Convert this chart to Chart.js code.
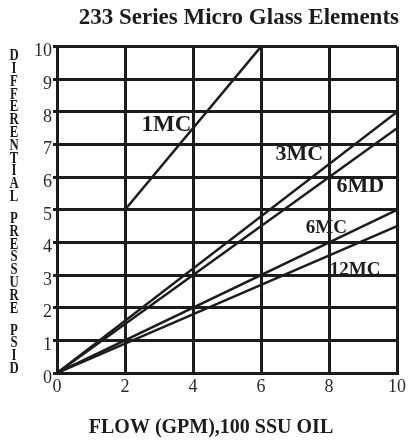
<!DOCTYPE html>
<html>
<head>
<meta charset="utf-8">
<script src="https://cdn.jsdelivr.net/npm/chart.js@4"></script>
<style>
    html, body { margin: 0; padding: 0; background: #fff; }
    canvas { display: block; }
</style>
</head>
<body>
<canvas id="myChart" width="409" height="441"></canvas>
<script>
// DATA
const seriesNames = ['1MC', '3MC', '6MD', '6MC', '12MC'];
const flowStart = [2, 0, 0, 0, 0];      // GPM
const flowEnd = [6, 10, 10, 10, 10];
const psidStart = [5, 0, 0, 0, 0];      // PSID
const psidEnd = [10, 8, 7.5, 5, 4.5];
const chartTitle = '233 Series Micro Glass Elements';
const xTitle = 'FLOW (GPM),100 SSU OIL';
const yTitleWords = ['DIFFERENTIAL', 'PRESSURE', 'PSID'];

// STYLE
const ink = '#1c1c1c';
const serif = '"Liberation Serif", "DejaVu Serif", serif';
// where each series name sits (data units, centre of text) and its size
const labelAt = {
    '1MC': [3.22, 7.59, 23],
    '3MC': [7.13, 6.69, 22],
    '6MD': [8.92, 5.71, 22],
    '6MC': [7.92, 4.43, 19],
    '12MC': [8.77, 3.16, 19]
};

const datasets = seriesNames.map((name, i) => ({
    label: name,
    data: [
        { x: flowStart[i], y: psidStart[i] },
        { x: flowEnd[i], y: psidEnd[i] }
    ],
    borderColor: ink,
    borderWidth: 2.5,
    pointRadius: 0,
    fill: false,
    tension: 0
}));

// texts that chart.js can't place the way the scan has them
const extraText = {
    id: 'extraText',
    afterDatasetsDraw(chart) {
        const ctx = chart.ctx;
        const xs = chart.scales.x;
        const ys = chart.scales.y;
        ctx.save();
        ctx.fillStyle = ink;
        ctx.textAlign = 'center';
        ctx.textBaseline = 'middle';

        // series names
        seriesNames.forEach(name => {
            const p = labelAt[name];
            ctx.font = 'bold ' + p[2] + 'px ' + serif;
            ctx.fillText(name, xs.getPixelForValue(p[0]), ys.getPixelForValue(p[1]));
        });

        // x axis title
        ctx.font = 'bold 20px ' + serif;
        ctx.fillText(xTitle, 211, 428);

        // y axis title, one letter under the other
        ctx.font = 'bold 16px ' + serif;
        let y = 56;
        yTitleWords.forEach(word => {
            for (const ch of word) {
                ctx.save();
                ctx.translate(14, y);
                ctx.scale(0.8, 1);
                ctx.fillText(ch, 0, 0);
                ctx.restore();
                y += 12.8;
            }
            y += 9.2;
        });
        ctx.restore();
    }
};

const ctx = document.getElementById('myChart');
new Chart(ctx, {
    type: 'line',
    data: { datasets: datasets },
    options: {
        responsive: false,
        animation: false,
        devicePixelRatio: 1,
        layout: { padding: { left: 0, right: 10, top: 0, bottom: 0 } },
        plugins: {
            legend: { display: false },
            tooltip: { enabled: false },
            title: {
                display: true,
                text: chartTitle,
                align: 'end',
                color: ink,
                font: { family: serif, size: 23, weight: 'bold' },
                padding: { top: 4, bottom: 15 }
            }
        },
        scales: {
            x: {
                type: 'linear',
                min: 0,
                max: 10,
                ticks: {
                    stepSize: 2,
                    color: '#2a2a2a',
                    padding: 3,
                    font: { family: serif, size: 18 }
                },
                grid: { color: ink, lineWidth: 3, drawTicks: false },
                border: { color: ink, width: 3 },
                afterFit: scale => { scale.height = 68; }
            },
            y: {
                min: 0,
                max: 10,
                ticks: {
                    stepSize: 1,
                    color: '#2a2a2a',
                    padding: 1,
                    labelOffset: 5,
                    font: { family: serif, size: 18 }
                },
                grid: { color: ink, lineWidth: 3, tickLength: 4 },
                border: { color: ink, width: 3 },
                afterFit: scale => { scale.width = 57; }
            }
        }
    },
    plugins: [extraText]
});
</script>
</body>
</html>
